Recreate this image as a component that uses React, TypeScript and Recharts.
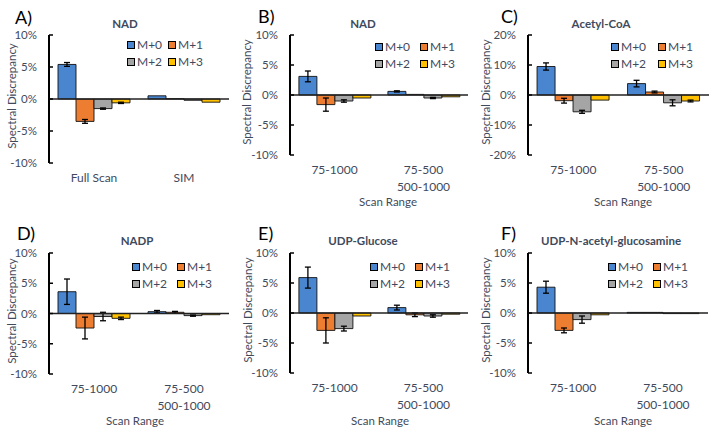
import React from 'react'
import { BarChart, Bar, XAxis, YAxis, ReferenceLine, ErrorBar } from 'recharts'

/* ─── Data ─── */

const SERIES = ['M+0', 'M+1', 'M+2', 'M+3']
const COLORS = ['#4a86cf', '#ed7d31', '#a5a5a5', '#ffc000']

const RANGE_CATS = ['75-1000', '75-500\n500-1000']

// A) NAD, full scan vs SIM
const A_CATS = ['Full Scan', 'SIM']
const A_M0 = [5.4, 0.5]
const A_M1 = [-3.5, 0.05]
const A_M2 = [-1.5, -0.2]
const A_M3 = [-0.6, -0.5]
const A_E0 = [0.3, null]
const A_E1 = [0.3, null]
const A_E2 = [0.1, null]
const A_E3 = [0.1, null]

// B) NAD by scan range
const B_M0 = [3.1, 0.6]
const B_M1 = [-1.6, 0.1]
const B_M2 = [-1.0, -0.5]
const B_M3 = [-0.5, -0.3]
const B_E0 = [0.9, 0.1]
const B_E1 = [1.1, null]
const B_E2 = [0.2, 0.1]
const B_E3 = [null, null]

// C) Acetyl-CoA
const C_M0 = [9.5, 3.8]
const C_M1 = [-1.9, 1.0]
const C_M2 = [-5.6, -2.6]
const C_M3 = [-1.7, -2.0]
const C_E0 = [1.2, 1.1]
const C_E1 = [0.8, 0.3]
const C_E2 = [0.5, 1.0]
const C_E3 = [null, 0.3]

// D) NADP
const D_M0 = [3.6, 0.3]
const D_M1 = [-2.4, 0.2]
const D_M2 = [-0.5, -0.35]
const D_M3 = [-0.8, -0.2]
const D_E0 = [2.1, 0.2]
const D_E1 = [1.8, 0.15]
const D_E2 = [0.7, 0.1]
const D_E3 = [0.2, null]

// E) UDP-Glucose
const E_M0 = [5.9, 0.9]
const E_M1 = [-2.9, -0.3]
const E_M2 = [-2.6, -0.5]
const E_M3 = [-0.5, -0.2]
const E_E0 = [1.75, 0.4]
const E_E1 = [2.1, 0.3]
const E_E2 = [0.4, 0.2]
const E_E3 = [null, null]

// F) UDP-N-acetyl-glucosamine
const F_M0 = [4.3, 0.1]
const F_M1 = [-2.9, 0.1]
const F_M2 = [-1.1, -0.1]
const F_M3 = [-0.3, -0.1]
const F_E0 = [1.0, null]
const F_E1 = [0.4, null]
const F_E2 = [0.6, null]
const F_E3 = [null, null]

const TICKS_10 = [-10, -5, 0, 5, 10]
const TICKS_20 = [-20, -10, 0, 10, 20]

/* ─── Layout ─── */

const FONT = 'Lato, "Open Sans", sans-serif'
const TEXT = '#3f4a5c'
const W = 238
const H = 216

const panels = [
  {
    letter: 'A)', title: 'NAD', cats: A_CATS, vals: [A_M0, A_M1, A_M2, A_M3], errs: [A_E0, A_E1, A_E2, A_E3],
    ticks: TICKS_10, xTitle: null,
    x: 0, y: 0, plot: { l: 49, t: 35, r: 229, b: 163 },
    titleX: 125, titleY: 24, letterX: 15, letterY: 17, legX: 127, legX2: 168, legY: 45, yLabX: 12,
  },
  {
    letter: 'B)', title: 'NAD', cats: RANGE_CATS, vals: [B_M0, B_M1, B_M2, B_M3], errs: [B_E0, B_E1, B_E2, B_E3],
    ticks: TICKS_10, xTitle: 'Scan Range',
    x: 238, y: 0, plot: { l: 52, t: 35, r: 230, b: 155 },
    titleX: 125, titleY: 24, letterX: 20, letterY: 16, legX: 137, legX2: 182, legY: 47, yLabX: 9, xTitleX: 150, xTitleY: 202,
  },
  {
    letter: 'C)', title: 'Acetyl-CoA', cats: RANGE_CATS, vals: [C_M0, C_M1, C_M2, C_M3], errs: [C_E0, C_E1, C_E2, C_E3],
    ticks: TICKS_20, xTitle: 'Scan Range',
    x: 476, y: 0, plot: { l: 52, t: 35, r: 233, b: 155 },
    titleX: 125, titleY: 24, letterX: 25, letterY: 16, legX: 135, legX2: 182, legY: 47, yLabX: 10, xTitleX: 147, xTitleY: 202,
  },
  {
    letter: 'D)', title: 'NADP', cats: RANGE_CATS, vals: [D_M0, D_M1, D_M2, D_M3], errs: [D_E0, D_E1, D_E2, D_E3],
    ticks: TICKS_10, xTitle: 'Scan Range',
    x: 0, y: 216, plot: { l: 49, t: 37, r: 229, b: 158 },
    titleX: 137, titleY: 25, letterX: 17, letterY: 17, legX: 132, legX2: 177, legY: 51, yLabX: 12, xTitleX: 135, xTitleY: 205,
  },
  {
    letter: 'E)', title: 'UDP-Glucose', cats: RANGE_CATS, vals: [E_M0, E_M1, E_M2, E_M3], errs: [E_E0, E_E1, E_E2, E_E3],
    ticks: TICKS_10, xTitle: 'Scan Range',
    x: 238, y: 216, plot: { l: 52, t: 37, r: 230, b: 157 },
    titleX: 125, titleY: 25, letterX: 20, letterY: 17, legX: 132, legX2: 177, legY: 51, yLabX: 10, xTitleX: 142, xTitleY: 205,
  },
  {
    letter: 'F)', title: 'UDP-N-acetyl-glucosamine', cats: RANGE_CATS, vals: [F_M0, F_M1, F_M2, F_M3], errs: [F_E0, F_E1, F_E2, F_E3],
    ticks: TICKS_10, xTitle: 'Scan Range',
    x: 476, y: 216, plot: { l: 52, t: 37, r: 232, b: 157 },
    titleX: 135, titleY: 25, letterX: 25, letterY: 17, legX: 132, legX2: 177, legY: 51, yLabX: 10, xTitleX: 147, xTitleY: 205,
  },
]

/* ─── Category tick (supports two-line labels) ─── */

function CatTick({ x, y, payload }: any) {
  const lines = String(payload.value).split('\n')
  return (
    <text x={x} y={y} textAnchor="middle" fill={TEXT} fontSize={12} fontFamily={FONT}>
      {lines.map((line, i) => (
        <tspan key={i} x={x} dy={i === 0 ? 18.5 : 17}>
          {line}
        </tspan>
      ))}
    </text>
  )
}

/* ─── Panel ─── */

function Panel({ p }: { p: any }) {
  const data = p.cats.map((c: string, i: number) => {
    const row: Record<string, any> = { cat: c }
    SERIES.forEach((_, k) => {
      row[`m${k}`] = p.vals[k][i]
      row[`e${k}`] = p.errs[k][i]
    })
    return row
  })
  const max = p.ticks[p.ticks.length - 1]

  return (
    <div style={{ position: 'absolute', left: p.x, top: p.y, width: W, height: H, fontFamily: FONT }}>
      <BarChart
        width={W}
        height={H}
        data={data}
        margin={{ top: p.plot.t, right: W - p.plot.r, bottom: 0, left: 0 }}
        barCategoryGap="10%"
        barGap={0}
      >
        <XAxis
          dataKey="cat"
          axisLine={false}
          tickLine={false}
          tickSize={0}
          tickMargin={0}
          interval={0}
          height={H - p.plot.b}
          tick={<CatTick />}
        />
        <YAxis
          width={p.plot.l}
          domain={[-max, max]}
          ticks={p.ticks}
          allowDataOverflow
          tickFormatter={(v: number) => `${v}%`}
          axisLine={{ stroke: '#000', strokeWidth: 2 }}
          tickLine={{ stroke: '#000', strokeWidth: 1.5 }}
          tickSize={-4}
          tickMargin={16}
          tick={{ fill: TEXT, fontSize: 11.5, fontFamily: FONT }}
        />
        {SERIES.map((s, k) => (
          <Bar
            key={s}
            dataKey={`m${k}`}
            name={s}
            fill={COLORS[k]}
            stroke="#111"
            strokeWidth={0.9}
            isAnimationActive={false}
          >
            <ErrorBar dataKey={`e${k}`} width={3} stroke="#000" strokeWidth={1.3} direction="y" isAnimationActive={false} />
          </Bar>
        ))}
        <ReferenceLine y={0} stroke="#222" strokeWidth={1.5} />
      </BarChart>

      {/* panel letter */}
      <div style={{ position: 'absolute', left: p.letterX, top: p.letterY, transform: 'translateY(-50%)', fontSize: 18, color: '#000', lineHeight: 1 }}>
        {p.letter}
      </div>

      {/* title */}
      <div style={{ position: 'absolute', left: p.titleX, top: p.titleY, transform: 'translate(-50%, -50%)', fontSize: 11.5, fontWeight: 700, color: TEXT, whiteSpace: 'nowrap', lineHeight: 1 }}>
        {p.title}
      </div>

      {/* y axis title */}
      <div style={{ position: 'absolute', left: p.yLabX, top: (p.plot.t + p.plot.b) / 2 - 3, transform: 'translate(-50%, -50%) rotate(-90deg)', fontSize: 11.5, color: TEXT, whiteSpace: 'nowrap', lineHeight: 1 }}>
        Spectral Discrepancy
      </div>

      {/* x axis title */}
      {p.xTitle && (
        <div style={{ position: 'absolute', left: p.xTitleX, top: p.xTitleY, transform: 'translate(-50%, -50%)', fontSize: 11.5, color: TEXT, whiteSpace: 'nowrap', lineHeight: 1 }}>
          {p.xTitle}
        </div>
      )}

      {/* legend, 2 x 2 */}
      {SERIES.map((s, k) => {
        const left = k % 2 === 0 ? p.legX : p.legX2
        const cy = p.legY + Math.floor(k / 2) * 17
        return (
          <div key={s} style={{ position: 'absolute', left, top: cy, transform: 'translateY(-50%)', display: 'flex', alignItems: 'center', lineHeight: 1 }}>
            <span style={{ width: 6, height: 6, background: COLORS[k], border: '1px solid #000', marginRight: 2 }} />
            <span style={{ fontSize: 12, color: TEXT }}>{s}</span>
          </div>
        )
      })}
    </div>
  )
}

export default function App() {
  return (
    <div style={{ position: 'absolute', left: 0, top: 0, width: 714, height: 432, background: '#fff', overflow: 'hidden' }}>
      {panels.map((p) => (
        <Panel key={p.letter} p={p} />
      ))}
    </div>
  )
}
